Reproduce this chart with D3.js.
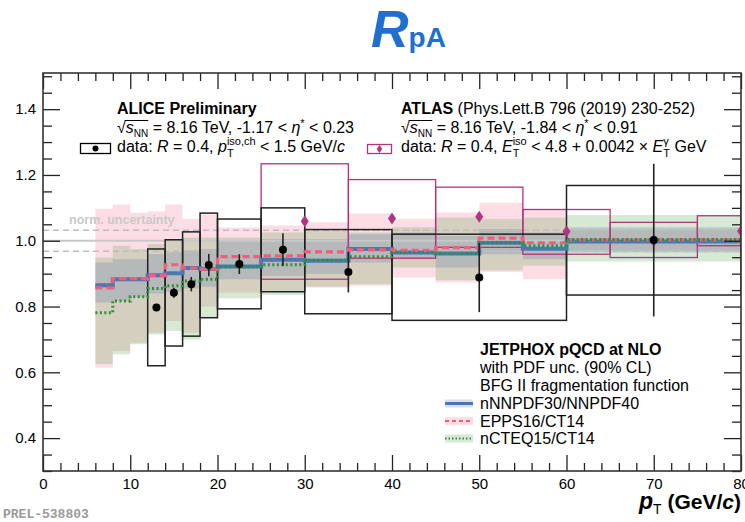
<!DOCTYPE html>
<html lang="en">
<head>
<meta charset="utf-8">
<script src="https://d3js.org/d3.v7.min.js"></script>
<style>
  body { margin: 0; background: #fff; }
  svg text { font-family: "Liberation Sans", Arial, Helvetica, sans-serif; fill: #000; white-space: pre; }
</style>
</head>
<body>
<div id="graph"></div>
<script>
// ---- theory bins (pT edges, GeV/c)
var thLo = [6, 8, 10, 12, 14, 16, 18, 20, 25, 30, 35, 40, 45, 50, 55, 60];
var thHi = [8, 10, 12, 14, 16, 18, 20, 25, 30, 35, 40, 45, 50, 55, 60, 80];

// nNNPDF30/NNPDF40
var nnpdfMid = [0.865, 0.883, 0.883, 0.895, 0.901, 0.917, 0.914, 0.922, 0.942, 0.939, 0.975, 0.964, 0.961, 0.994, 0.976, 0.998];
var nnpdfUp  = [0.934, 0.944, 0.944, 0.960, 0.965, 0.970, 0.975, 1.000, 1.005, 1.005, 1.020, 1.025, 1.015, 1.036, 1.025, 1.041];
var nnpdfDn  = [0.812, 0.817, 0.830, 0.840, 0.845, 0.855, 0.860, 0.883, 0.893, 0.899, 0.934, 0.944, 0.919, 0.959, 0.944, 0.964];

// EPPS16/CT14
var eppsMid = [0.857, 0.885, 0.885, 0.895, 0.927, 0.917, 0.914, 0.952, 0.954, 0.966, 0.972, 0.971, 0.979, 1.008, 0.994, 1.003];
var eppsUp  = [1.097, 1.110, 1.085, 1.090, 1.110, 1.066, 1.080, 1.040, 1.046, 1.056, 1.083, 1.066, 1.086, 1.115, 1.097, 1.035];
var eppsDn  = [0.614, 0.665, 0.690, 0.720, 0.756, 0.720, 0.800, 0.842, 0.848, 0.858, 0.863, 0.888, 0.873, 0.905, 0.883, 0.970];

// nCTEQ15/CT14
var ncteqMid = [0.781, 0.817, 0.830, 0.855, 0.863, 0.878, 0.883, 0.921, 0.927, 0.941, 0.951, 0.964, 0.961, 0.994, 0.985, 1.004];
var ncteqUp  = [0.949, 0.985, 0.975, 0.990, 1.005, 1.010, 1.010, 1.010, 1.025, 1.030, 1.025, 1.041, 1.071, 1.066, 1.071, 1.078];
var ncteqDn  = [0.625, 0.655, 0.685, 0.715, 0.726, 0.700, 0.766, 0.825, 0.835, 0.860, 0.868, 0.919, 0.880, 0.910, 0.924, 0.937];

// ALICE preliminary
var aliceX    = [13, 15, 17, 19, 22.5, 27.5, 35, 50, 70];
var aliceXlo  = [12, 14, 16, 18, 20, 25, 30, 40, 60];
var aliceXhi  = [14, 16, 18, 20, 25, 30, 40, 60, 80];
var aliceY    = [0.797, 0.842, 0.868, 0.926, 0.929, 0.973, 0.905, 0.888, 1.002];
var aliceStat = [0.008, 0.015, 0.022, 0.034, 0.030, 0.050, 0.062, 0.105, 0.232];
var aliceSysUp = [0.975, 1.003, 1.027, 1.084, 1.066, 1.100, 1.034, 1.020, 1.168];
var aliceSysDn = [0.620, 0.680, 0.710, 0.766, 0.793, 0.845, 0.778, 0.758, 0.835];

// ATLAS (PLB 796 (2019) 230)
var atlasX    = [30, 40, 50, 60, 70, 80];
var atlasXlo  = [25, 35, 45, 55, 65, 75];
var atlasXhi  = [35, 45, 55, 65, 75, 85];
var atlasY    = [1.059, 1.068, 1.073, 1.028, 1.000, 1.030];
var atlasSysUp = [1.234, 1.186, 1.163, 1.095, 1.056, 1.076];
var atlasSysDn = [0.883, 0.947, 0.980, 0.959, 0.949, 0.985];

var normUnc = 0.032;
var xMajor = [0, 10, 20, 30, 40, 50, 60, 70, 80];
var yMajor = [0.4, 0.6, 0.8, 1.0, 1.2, 1.4];

// ---- layout
var W = 745, H = 522;
var L = 43, R = 741, T = 73, B = 471;

var svg = d3.select("#graph").append("svg")
  .attr("width", W).attr("height", H);

var x = d3.scaleLinear().domain([0, 80]).range([L, R]);
var y = d3.scaleLinear().domain([0.3, 1.51]).range([B, T]);

svg.append("clipPath").attr("id", "clip")
  .append("rect").attr("x", L).attr("y", T).attr("width", R - L).attr("height", B - T);
var plot = svg.append("g").attr("clip-path", "url(#clip)");

var colBlue = "#4a79b2", colPink = "#ef5f7b", colGreen = "#2f8f3c";
var fillBlue = "rgba(70,110,160,0.22)", fillPink = "rgba(245,95,130,0.21)", fillGreen = "rgba(80,160,70,0.23)";
var colAtlas = "#b0357f";

// step helpers
function stepPts(vals) {
  var pts = [];
  vals.forEach(function(v, i) { pts.push([thLo[i], v]); pts.push([thHi[i], v]); });
  return pts;
}
function bandPts(up, dn) {
  var pts = [];
  up.forEach(function(v, i) {
    pts.push({x: thLo[i], u: v, d: dn[i]});
    pts.push({x: thHi[i], u: v, d: dn[i]});
  });
  return pts;
}
var area = d3.area().x(function(d) { return x(d.x); })
  .y0(function(d) { return y(d.d); }).y1(function(d) { return y(d.u); });
var line = d3.line().x(function(d) { return x(d[0]); }).y(function(d) { return y(d[1]); });

// bands
plot.append("path").attr("d", area(bandPts(eppsUp, eppsDn))).attr("fill", fillPink);
plot.append("path").attr("d", area(bandPts(ncteqUp, ncteqDn))).attr("fill", fillGreen);
plot.append("path").attr("d", area(bandPts(nnpdfUp, nnpdfDn))).attr("fill", fillBlue);

// normalisation uncertainty
plot.append("line").attr("x1", L).attr("x2", R).attr("y1", y(1)).attr("y2", y(1))
  .attr("stroke", "#c8c8c8").attr("stroke-width", 2);
[1 + normUnc, 1 - normUnc].forEach(function(v) {
  plot.append("line").attr("x1", L).attr("x2", R).attr("y1", y(v)).attr("y2", y(v))
    .attr("stroke", "#bdbdbd").attr("stroke-width", 1.5).attr("stroke-dasharray", "6,4");
});
svg.append("text").attr("x", 69).attr("y", 224)
  .style("font-size", "12.5px").style("font-weight", "bold").style("fill", "#c9c9c9")
  .text("norm. uncertainty");

// ATLAS boxes
plot.selectAll(".abox").data(atlasX).enter().append("rect")
  .attr("x", function(d, i) { return x(atlasXlo[i]); })
  .attr("width", function(d, i) { return x(atlasXhi[i]) - x(atlasXlo[i]); })
  .attr("y", function(d, i) { return y(atlasSysUp[i]); })
  .attr("height", function(d, i) { return y(atlasSysDn[i]) - y(atlasSysUp[i]); })
  .attr("fill", "none").attr("stroke", colAtlas).attr("stroke-width", 1.3);

// ALICE boxes
plot.selectAll(".bbox").data(aliceX).enter().append("rect")
  .attr("x", function(d, i) { return x(aliceXlo[i]); })
  .attr("width", function(d, i) { return x(aliceXhi[i]) - x(aliceXlo[i]); })
  .attr("y", function(d, i) { return y(aliceSysUp[i]); })
  .attr("height", function(d, i) { return y(aliceSysDn[i]) - y(aliceSysUp[i]); })
  .attr("fill", "none").attr("stroke", "#222").attr("stroke-width", 1.5);

// theory lines
plot.append("path").attr("d", line(stepPts(nnpdfMid))).attr("fill", "none")
  .attr("stroke", colBlue).attr("stroke-width", 4);
plot.append("path").attr("d", line(stepPts(eppsMid))).attr("fill", "none")
  .attr("stroke", colPink).attr("stroke-width", 3.2).attr("stroke-dasharray", "7,4");
plot.append("path").attr("d", line(stepPts(ncteqMid))).attr("fill", "none")
  .attr("stroke", colGreen).attr("stroke-width", 3).attr("stroke-dasharray", "2,2.5");

// ATLAS points
plot.selectAll(".apt").data(atlasX).enter().append("path")
  .attr("d", "M0,-6L4,0L0,6L-4,0Z")
  .attr("transform", function(d, i) { return "translate(" + x(d) + "," + y(atlasY[i]) + ")"; })
  .attr("fill", colAtlas);

// ALICE points
plot.selectAll(".err").data(aliceX).enter().append("line")
  .attr("x1", function(d) { return x(d); }).attr("x2", function(d) { return x(d); })
  .attr("y1", function(d, i) { return y(aliceY[i] + aliceStat[i]); })
  .attr("y2", function(d, i) { return y(aliceY[i] - aliceStat[i]); })
  .attr("stroke", "#222").attr("stroke-width", 1.6);
plot.selectAll(".pt").data(aliceX).enter().append("circle")
  .attr("cx", function(d) { return x(d); })
  .attr("cy", function(d, i) { return y(aliceY[i]); })
  .attr("r", 4).attr("fill", "#000");

// ---- axes (ROOT style: ticks inside, on all four sides)
function styleAxis(g) {
  g.select(".domain").remove();
  g.selectAll(".tick line").attr("stroke", "#222").attr("stroke-width", 1.3);
  g.selectAll("text").style("font-size", "15px").style("font-family", "Liberation Sans, Arial, sans-serif").attr("fill", "#000");
}
var xMinor = d3.range(0, 81, 2).filter(function(v) { return v % 10 !== 0; });
var yMinor = d3.range(0.3, 1.51, 0.05).map(function(v) { return +v.toFixed(2); })
  .filter(function(v) { return Math.abs(v * 5 - Math.round(v * 5)) > 1e-6; });

svg.append("g").attr("transform", "translate(0," + B + ")")
  .call(d3.axisBottom(x).tickValues(xMajor).tickSize(-16).tickPadding(7).tickFormat(d3.format("d")))
  .call(styleAxis);
svg.append("g").attr("transform", "translate(0," + B + ")")
  .call(d3.axisBottom(x).tickValues(xMinor).tickSize(-8).tickFormat(""))
  .call(styleAxis);
svg.append("g").attr("transform", "translate(0," + T + ")")
  .call(d3.axisTop(x).tickValues(xMajor).tickSize(-16).tickFormat(""))
  .call(styleAxis);
svg.append("g").attr("transform", "translate(0," + T + ")")
  .call(d3.axisTop(x).tickValues(xMinor).tickSize(-8).tickFormat(""))
  .call(styleAxis);
svg.append("g").attr("transform", "translate(" + L + ",0)")
  .call(d3.axisLeft(y).tickValues(yMajor).tickSize(-17).tickPadding(7).tickFormat(d3.format(".1f")))
  .call(styleAxis);
svg.append("g").attr("transform", "translate(" + L + ",0)")
  .call(d3.axisLeft(y).tickValues(yMinor).tickSize(-9).tickFormat(""))
  .call(styleAxis);
svg.append("g").attr("transform", "translate(" + R + ",0)")
  .call(d3.axisRight(y).tickValues(yMajor).tickSize(-17).tickFormat(""))
  .call(styleAxis);
svg.append("g").attr("transform", "translate(" + R + ",0)")
  .call(d3.axisRight(y).tickValues(yMinor).tickSize(-9).tickFormat(""))
  .call(styleAxis);

svg.append("rect").attr("x", L).attr("y", T).attr("width", R - L).attr("height", B - T)
  .attr("fill", "none").attr("stroke", "#333").attr("stroke-width", 1.6);

// ---- rich text helper: parts placed one after another
function rich(g, x0, y0, parts, base, anchor) {
  var cx = x0, nodes = [], overs = [];
  parts.forEach(function(p) {
    var s = p.s || base;
    if (p.stack) {
      var ss = p.s || Math.round(base * 0.68);
      var a = g.append("text").attr("x", cx).attr("y", y0 - base * 0.45).style("font-size", ss + "px").text(p.stack[0]);
      var b = g.append("text").attr("x", cx).attr("y", y0 + base * 0.3).style("font-size", ss + "px").text(p.stack[1]);
      nodes.push(a, b);
      cx += Math.max(a.node().getComputedTextLength(), b.node().getComputedTextLength());
      return;
    }
    var t = g.append("text").attr("x", cx).attr("y", y0 + (p.dy || 0))
      .attr("xml:space", "preserve")
      .style("font-size", s + "px")
      .style("font-weight", p.b ? "bold" : "normal")
      .style("font-style", p.i ? "italic" : "normal")
      .text(p.t);
    if (p.fill) t.style("fill", p.fill);
    nodes.push(t);
    var w = t.node().getComputedTextLength();
    if (p.ov) overs.push([cx, cx + w]);
    cx += w + (p.gap || 0);
  });
  var shift = anchor === "end" ? -(cx - x0) : 0;
  if (shift) nodes.forEach(function(n) { n.attr("x", +n.attr("x") + shift); });
  if (overs.length) {
    var a0 = overs[0][0], a1 = overs[overs.length - 1][1];
    g.append("line").attr("x1", a0 - 1 + shift).attr("x2", a1 + shift)
      .attr("y1", y0 - base * 0.78).attr("y2", y0 - base * 0.78)
      .attr("stroke", "#000").attr("stroke-width", 1);
  }
  return cx - x0;
}

var sqrtS = [{t: "\u221A"}, {t: "s", i: true, ov: true}, {t: "NN", s: 10, dy: 3.5, ov: true}];

// title
var title = svg.append("g");
rich(title, 371, 47, [{t: "R", b: true, i: true, s: 52, fill: "#1f6fd0"},
                      {t: "pA", b: true, s: 28, fill: "#1f6fd0"}], 52);

// ALICE legend
var lg = svg.append("g");
rich(lg, 117, 114, [{t: "ALICE Preliminary", b: true}], 16);
rich(lg, 117, 133, sqrtS.concat([{t: " = 8.16 TeV, -1.17 < "}, {t: "\u03B7", i: true}, {t: "*", s: 11, dy: -6},
                                 {t: " < 0.23"}]), 16);
rich(lg, 117, 152, [{t: "data: "}, {t: "R", i: true}, {t: " = 0.4, "}, {t: "p", i: true},
                    {stack: ["iso,ch", "T"]}, {t: " < 1.5 GeV/"}, {t: "c", i: true}], 16);
lg.append("rect").attr("x", 80.5).attr("y", 143.5).attr("width", 30).attr("height", 10)
  .attr("fill", "none").attr("stroke", "#000").attr("stroke-width", 1.3);
lg.append("circle").attr("cx", 95.5).attr("cy", 148.5).attr("r", 3).attr("fill", "#000");

// ATLAS legend
rich(lg, 401, 114, [{t: "ATLAS", b: true}, {t: " (Phys.Lett.B 796 (2019) 230-252)"}], 16);
rich(lg, 401, 133, sqrtS.concat([{t: " = 8.16 TeV, -1.84 < "}, {t: "\u03B7", i: true}, {t: "*", s: 11, dy: -6},
                                 {t: " < 0.91"}]), 16);
rich(lg, 401, 152, [{t: "data: "}, {t: "R", i: true}, {t: " = 0.4, "}, {t: "E", i: true},
                    {stack: ["iso", "T"]}, {t: " < 4.8 + 0.0042 \u00D7 "}, {t: "E", i: true},
                    {stack: ["\u03B3", "T"]}, {t: " GeV"}], 16);
lg.append("rect").attr("x", 367.5).attr("y", 144.5).attr("width", 24).attr("height", 9)
  .attr("fill", "none").attr("stroke", colAtlas).attr("stroke-width", 1.3);
lg.append("path").attr("d", "M0,-4L2.8,0L0,4L-2.8,0Z").attr("transform", "translate(379.5,149)").attr("fill", colAtlas);

// JETPHOX legend
var jl = svg.append("g");
rich(jl, 480, 355, [{t: "JETPHOX pQCD at NLO", b: true}], 16);
rich(jl, 480, 373, [{t: "with PDF unc. (90% CL)"}], 16);
rich(jl, 480, 391, [{t: "BFG II fragmentation function"}], 16);
var entries = [
  {name: "nNNPDF30/NNPDF40", fill: fillBlue, col: colBlue, w: 3, dash: null},
  {name: "EPPS16/CT14", fill: fillPink, col: colPink, w: 2, dash: "4,3"},
  {name: "nCTEQ15/CT14", fill: fillGreen, col: colGreen, w: 2, dash: "1.5,2"}
];
entries.forEach(function(e, i) {
  var by = 409 + i * 17.5;
  var cy = by - 5.5;
  jl.append("rect").attr("x", 445).attr("y", cy - 4).attr("width", 28).attr("height", 8).attr("fill", e.fill);
  var ln = jl.append("line").attr("x1", 445).attr("x2", 473).attr("y1", cy).attr("y2", cy)
    .attr("stroke", e.col).attr("stroke-width", e.w);
  if (e.dash) ln.attr("stroke-dasharray", e.dash);
  rich(jl, 480, by, [{t: e.name}], 16);
});

// x axis title
rich(svg, 741, 509, [{t: "p", b: true, i: true, s: 23}, {t: "T", s: 14, dy: 5},
                     {t: " (GeV/", b: true, s: 21}, {t: "c", b: true, i: true, s: 21}, {t: ")", b: true, s: 21}], 21, "end");

// preliminary id
svg.append("text").attr("x", 3).attr("y", 518)
  .style("font-family", "Liberation Mono, DejaVu Sans Mono, monospace").style("font-size", "13px")
  .style("font-weight", "bold").style("fill", "#9a9a9a").text("PREL-538803");
</script>
</body>
</html>
